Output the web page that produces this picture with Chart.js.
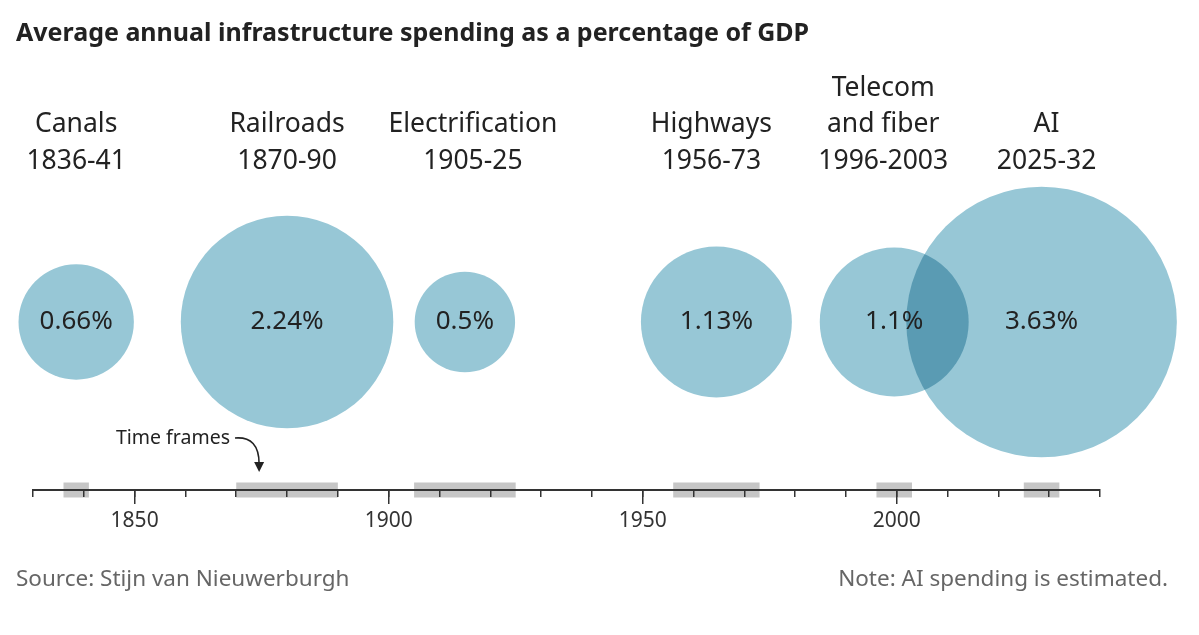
<!DOCTYPE html>
<html lang="en">
    <head>
        <meta charset="UTF-8">
        <title>Infrastructure spending</title>
        <script src="https://cdn.jsdelivr.net/npm/chart.js"></script>
        <style>
            body { margin: 0; background: #fff; }
            .wrap { position: relative; width: 1199px; height: 635px; font-family: "Noto Sans", sans-serif; }
            .wrap canvas { position: absolute; left: 0; top: 0; }
            .title { position: absolute; left: 16px; top: 16px; margin: 0; font-size: 25px; line-height: 30px; font-weight: 700; color: #222; }
            .foot { position: absolute; top: 563px; font-size: 22.5px; line-height: 30px; color: #666; }
            .foot.src { left: 16px; }
            .foot.note { right: 31px; }
        </style>
    </head>
    <body>
        <div class="wrap">
            <canvas id="chart" width="1199" height="635"></canvas>
            <h1 class="title">Average annual infrastructure spending as a percentage of GDP</h1>
            <div class="foot src">Source: Stijn van Nieuwerburgh</div>
            <div class="foot note">Note: AI spending is estimated.</div>
        </div>

        <script>
            // data
            const eras = ['Canals', 'Railroads', 'Electrification', 'Highways', 'Telecom\nand fiber', 'AI'];
            const periodLabels = ['1836-41', '1870-90', '1905-25', '1956-73', '1996-2003', '2025-32'];
            const startYears = [1836, 1870, 1905, 1956, 1996, 2025];
            const endYears = [1841, 1890, 1925, 1973, 2003, 2032];
            const gdpShare = [0.66, 2.24, 0.5, 1.13, 1.1, 3.63];
            const yearTicks = [1850, 1900, 1950, 2000];

            const BUBBLE_ROW = 168;      // bubbles sit on one row above the time axis
            const RADIUS_PER_SQRT = 71;  // bubble area proportional to share
            const labelNudge = [0, 0, 8, -5, -11, 5]; // px shifts of the headings, as in the original

            const bubbleData = gdpShare.map((v, i) => ({
                x: (startYears[i] + endYears[i]) / 2,
                y: BUBBLE_ROW,
                r: RADIUS_PER_SQRT * Math.sqrt(v)
            }));

            // gray time frame bars on the axis
            const frameSets = startYears.map((s, i) => ({
                type: 'line',
                data: [{ x: s, y: 0 }, { x: endYears[i], y: 0 }],
                borderColor: '#c6c6c6',
                borderWidth: 15,
                borderCapStyle: 'butt',
                pointRadius: 0,
                clip: false
            }));

            // multiply blend so the overlap goes darker
            const blendPlugin = {
                id: 'blend',
                beforeDatasetDraw(chart, args) {
                    if (args.meta.type === 'bubble') {
                        chart.ctx.save();
                        chart.ctx.globalCompositeOperation = 'multiply';
                    }
                },
                afterDatasetDraw(chart, args) {
                    if (args.meta.type === 'bubble') chart.ctx.restore();
                }
            };

            const labelPlugin = {
                id: 'labels',
                afterDraw(chart) {
                    const ctx = chart.ctx;
                    const meta = chart.getDatasetMeta(0);
                    ctx.save();
                    ctx.textAlign = 'center';
                    ctx.textBaseline = 'middle';
                    ctx.fillStyle = '#222';
                    meta.data.forEach((pt, i) => {
                        // value in the middle
                        ctx.font = '26px "Noto Sans"';
                        ctx.fillText(gdpShare[i] + '%', pt.x, pt.y);
                        // name and years above
                        ctx.font = '26.5px "Noto Sans"';
                        const lines = eras[i].split('\n').concat(periodLabels[i]);
                        lines.reverse().forEach((t, j) => {
                            ctx.fillText(t, pt.x + labelNudge[i], 161 - j * 36.5);
                        });
                    });

                    // "Time frames" pointer
                    const tipX = chart.scales.x.getPixelForValue(1874.5);
                    ctx.font = '19.5px "Noto Sans"';
                    ctx.textAlign = 'right';
                    ctx.fillText('Time frames', 230, 438);
                    ctx.strokeStyle = '#222';
                    ctx.lineWidth = 1.6;
                    ctx.beginPath();
                    ctx.moveTo(235, 438);
                    ctx.quadraticCurveTo(tipX, 436, tipX, 464);
                    ctx.stroke();
                    ctx.beginPath();
                    ctx.moveTo(tipX - 5, 462);
                    ctx.lineTo(tipX + 5, 462);
                    ctx.lineTo(tipX, 472);
                    ctx.closePath();
                    ctx.fill();
                    ctx.restore();
                }
            };

            new Chart(document.getElementById('chart'), {
                type: 'bubble',
                data: {
                    datasets: [
                        {
                            data: bubbleData,
                            backgroundColor: '#97c7d6',
                            borderWidth: 0,
                            clip: false
                        },
                        ...frameSets
                    ]
                },
                options: {
                    responsive: false,
                    animation: false,
                    events: [],
                    layout: { autoPadding: false, padding: { left: 33, right: 99, top: 0, bottom: 0 } },
                    plugins: { legend: { display: false }, tooltip: { enabled: false } },
                    scales: {
                        y: { display: false, min: -145, max: 490 },
                        x: {
                            type: 'linear',
                            min: 1830,
                            max: 2040,
                            position: { y: 0 },
                            z: 1,
                            grid: { z: 1, drawOnChartArea: false, drawTicks: true, tickLength: 6, color: '#333', lineWidth: 1.5 },
                            border: { z: 1, display: true, color: '#333', width: 2 },
                            ticks: { stepSize: 10, callback: () => '' }
                        },
                        x2: {
                            type: 'linear',
                            axis: 'x',
                            min: 1830,
                            max: 2040,
                            position: { y: 0 },
                            z: 1,
                            afterBuildTicks: (s) => { s.ticks = yearTicks.map(v => ({ value: v })); },
                            grid: { z: 1, drawOnChartArea: false, drawTicks: true, tickLength: 14, color: '#333', lineWidth: 1.5 },
                            border: { display: false },
                            ticks: { padding: 4, color: '#333', font: { family: 'Noto Sans', size: 21 }, callback: (v) => String(v) }
                        }
                    }
                },
                plugins: [blendPlugin, labelPlugin]
            });
        </script>
    </body>
</html>
